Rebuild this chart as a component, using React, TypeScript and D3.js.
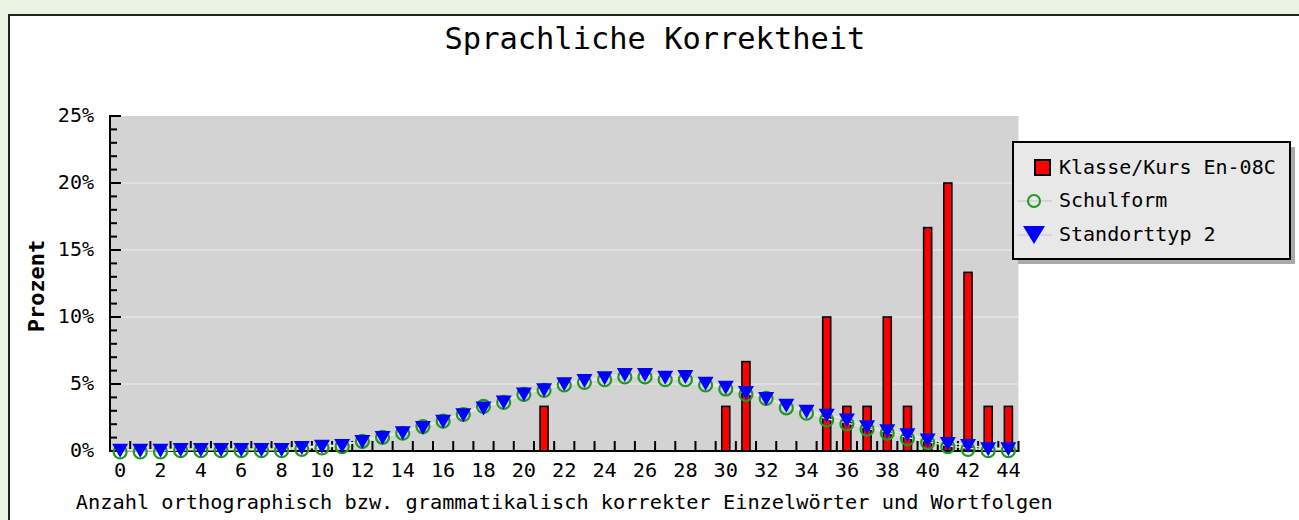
import React from "react";
import * as d3 from "d3";

// categories: number of correct words / word sequences
const categories = d3.range(0, 45);

// Klasse/Kurs En-08C (percent)
const klasseValues: [number, number][] = [
  [21, 3.33], [30, 3.33], [31, 6.67], [35, 10], [36, 3.33], [37, 3.33],
  [38, 10], [39, 3.33], [40, 16.67], [41, 20], [42, 13.33], [43, 3.33], [44, 3.33],
];

// Schulform (percent)
const schulformValues = [
  0.0, 0.0, 0.0, 0.1, 0.1, 0.1, 0.1, 0.1, 0.1, 0.2,
  0.3, 0.4, 0.8, 1.1, 1.4, 1.9, 2.3, 2.8, 3.4, 3.7,
  4.3, 4.6, 5.0, 5.2, 5.4, 5.6, 5.6, 5.4, 5.4, 5.0,
  4.7, 4.3, 4.0, 3.3, 2.9, 2.4, 2.1, 1.7, 1.4, 1.0,
  0.7, 0.4, 0.2, 0.1, 0.1,
];

// Standorttyp 2 (percent)
const standortValues = [
  0.1, 0.1, 0.1, 0.15, 0.15, 0.15, 0.15, 0.15, 0.15, 0.3,
  0.4, 0.45, 0.75, 1.05, 1.4, 1.8, 2.25, 2.75, 3.25, 3.7,
  4.3, 4.6, 5.05, 5.3, 5.5, 5.75, 5.75, 5.55, 5.6, 5.1,
  4.8, 4.4, 3.95, 3.45, 3.0, 2.7, 2.35, 1.85, 1.55, 1.25,
  0.85, 0.6, 0.45, 0.2, 0.2,
];

const yMajorTicks = [0, 5, 10, 15, 20, 25];
const yMinorTicks = d3.range(0, 26);
const xLabelTicks = categories.filter((c) => c % 2 === 0);

const W = 1299;
const H = 520;
const plot = { left: 110, right: 1018.5, top: 116, bottom: 451 };
const mono = "'DejaVu Sans Mono', 'Liberation Mono', monospace";

export default function App() {
  const x = d3
    .scaleBand<number>()
    .domain(categories)
    .range([plot.left, plot.right])
    .padding(0);
  const y = d3.scaleLinear().domain([0, 25]).range([plot.bottom, plot.top]);
  const cx = (c: number) => (x(c) ?? 0) + x.bandwidth() / 2;

  const line = d3
    .line<number>()
    .x((_, i) => cx(categories[i]))
    .y((d) => y(d));

  const barW = 8;
  const triPath = (px: number, py: number) =>
    `M${px - 8},${py - 6}L${px + 8},${py - 6}L${px},${py + 8}Z`;

  const legend = { x: 1013, y: 142, w: 277, h: 117 };
  const legendRows = [168, 201, 235];
  const lmx = 1034;

  return (
    <svg
      width={W}
      height={H}
      style={{ position: "absolute", left: 0, top: 0, display: "block" }}
    >
      <rect x={0} y={0} width={W} height={H} fill="#ebf3e3" />
      <rect x={9} y={15} width={W + 20} height={H + 20} fill="#ffffff" stroke="#222" strokeWidth={2} />

      <text x={655} y={49} textAnchor="middle" fontFamily={mono} fontSize={30.4} fill="#000">
        Sprachliche Korrektheit
      </text>

      {/* plot area */}
      <rect
        x={plot.left}
        y={plot.top}
        width={plot.right - plot.left}
        height={plot.bottom - plot.top}
        fill="#d3d3d3"
      />
      {yMajorTicks.slice(1, -1).map((t) => (
        <line key={"g" + t} x1={plot.left} x2={plot.right} y1={y(t)} y2={y(t)} stroke="#e4e4e4" strokeWidth={1.5} />
      ))}

      {/* bars */}
      {klasseValues.map(([c, v]) => (
        <rect
          key={"b" + c}
          x={cx(c) - barW / 2}
          y={y(v)}
          width={barW}
          height={y(0) - y(v)}
          fill="#ff0000"
          stroke="#000"
          strokeWidth={1.6}
        />
      ))}

      {/* axes */}
      <line x1={plot.left} x2={plot.left} y1={plot.top - 1} y2={plot.bottom + 1} stroke="#000" strokeWidth={2} />
      {yMinorTicks.map((t) => (
        <line
          key={"yt" + t}
          x1={plot.left}
          x2={plot.left + (t % 5 === 0 ? 11 : 7)}
          y1={y(t)}
          y2={y(t)}
          stroke="#000"
          strokeWidth={2}
        />
      ))}
      {yMajorTicks.map((t) => (
        <text key={"yl" + t} x={94} y={y(t) + 6} textAnchor="end" fontFamily={mono} fontSize={20} fill="#000">
          {t}%
        </text>
      ))}
      <line x1={plot.left - 1} x2={plot.right + 1} y1={plot.bottom} y2={plot.bottom} stroke="#000" strokeWidth={2} />
      {[...categories, categories.length].map((c) => {
        const px = c < categories.length ? x(c) ?? 0 : plot.right;
        return (
          <line key={"xt" + c} x1={px} x2={px} y1={plot.bottom} y2={plot.bottom - 10} stroke="#000" strokeWidth={2} />
        );
      })}
      {xLabelTicks.map((c) => (
        <text key={"xl" + c} x={cx(c)} y={477} textAnchor="middle" fontFamily={mono} fontSize={20.3} fill="#000">
          {c}
        </text>
      ))}
      <text
        x={(plot.left + plot.right) / 2}
        y={509}
        textAnchor="middle"
        fontFamily={mono}
        fontSize={20.3}
        fill="#000"
      >
        Anzahl orthographisch bzw. grammatikalisch korrekter Einzelwörter und Wortfolgen
      </text>
      <text
        transform={`translate(44,${286}) rotate(-90)`}
        textAnchor="middle"
        fontFamily={mono}
        fontSize={22}
        fontWeight="bold"
        fill="#000"
      >
        Prozent
      </text>

      {/* faint connecting lines */}
      <path d={line(schulformValues) ?? ""} fill="none" stroke="#e8e8e8" strokeWidth={1.5} />
      <path d={line(standortValues) ?? ""} fill="none" stroke="#e8e8e8" strokeWidth={1.5} />

      {/* markers */}
      {schulformValues.map((v, i) => (
        <circle key={"s" + i} cx={cx(categories[i])} cy={y(v) + 1} r={6.5} fill="none" stroke="#1e9a1e" strokeWidth={2.2} />
      ))}
      {standortValues.map((v, i) => (
        <path key={"t" + i} d={triPath(cx(categories[i]), y(v))} fill="#0000ff" />
      ))}

      {/* legend */}
      <rect x={legend.x + 5} y={legend.y + 5} width={legend.w} height={legend.h} fill="#aaaaaa" />
      <rect x={legend.x} y={legend.y} width={legend.w} height={legend.h} fill="#e8e8e8" stroke="#000" strokeWidth={2} />
      <rect x={1035} y={legendRows[0] - 8} width={15} height={15} fill="#ff0000" stroke="#000" strokeWidth={2} />
      <line x1={1017} x2={1052} y1={legendRows[1]} y2={legendRows[1]} stroke="#d6d6d6" strokeWidth={2} />
      <circle cx={lmx} cy={legendRows[1]} r={6} fill="none" stroke="#1e9a1e" strokeWidth={2} />
      <line x1={1017} x2={1052} y1={legendRows[2]} y2={legendRows[2]} stroke="#d6d6d6" strokeWidth={2} />
      <path d={`M${lmx - 11},${legendRows[2] - 9}L${lmx + 11},${legendRows[2] - 9}L${lmx},${legendRows[2] + 9}Z`} fill="#0000ff" />
      {["Klasse/Kurs En-08C", "Schulform", "Standorttyp 2"].map((t, i) => (
        <text key={t} x={1059} y={legendRows[i] + 6} fontFamily={mono} fontSize={20} fill="#000">
          {t}
        </text>
      ))}
    </svg>
  );
}
